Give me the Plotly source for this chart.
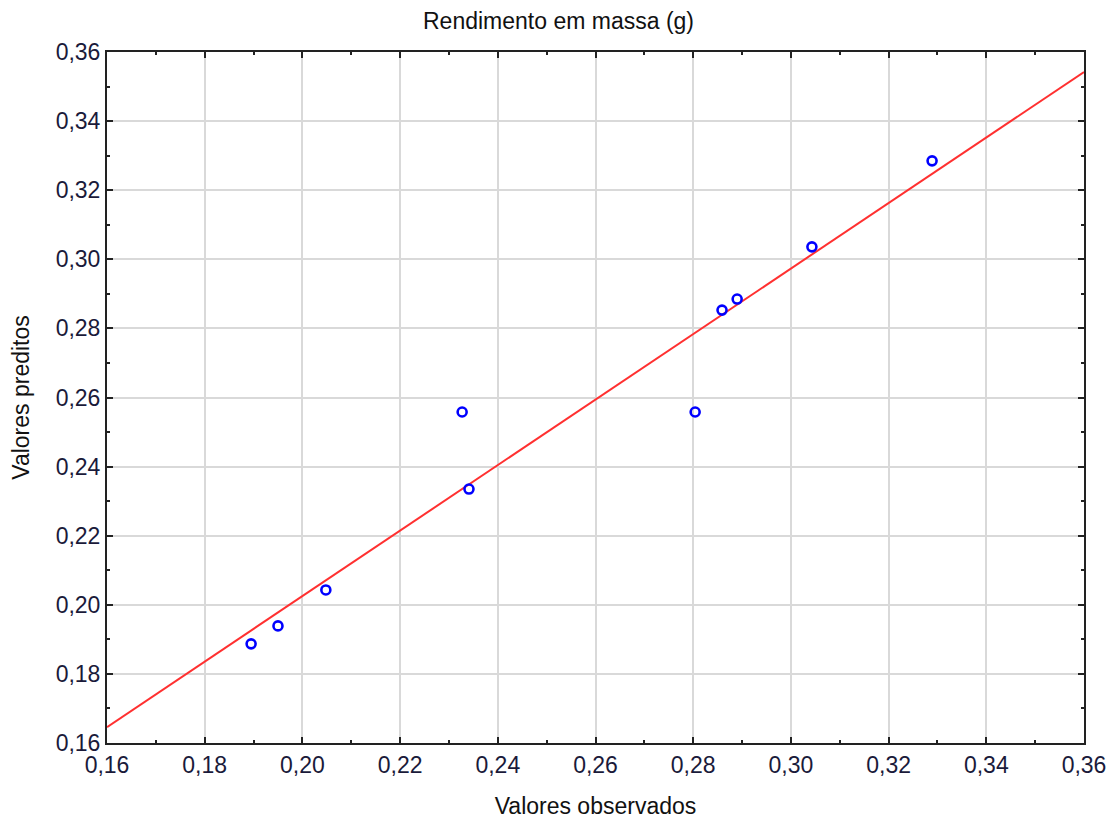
import plotly.graph_objects as go

observed = [0.1895, 0.1950, 0.2048, 0.2327, 0.2341, 0.2804, 0.2859, 0.2890, 0.3043, 0.3289]
predicted = [0.1887, 0.1939, 0.2043, 0.2558, 0.2335, 0.2558, 0.2853, 0.2885, 0.3036, 0.3285]
fit_x = [0.16, 0.36]
fit_y = [0.1646, 0.3542]

title_text = "Rendimento em massa (g)"
x_title = "Valores observados"
y_title = "Valores preditos"
tick_vals = [0.16, 0.18, 0.20, 0.22, 0.24, 0.26, 0.28, 0.30, 0.32, 0.34, 0.36]

font_family = "Liberation Sans, Arial, sans-serif"
fs = 23

fig = go.Figure()
fig.add_trace(go.Scatter(x=fit_x, y=fit_y, mode="lines",
                         line=dict(color="#ff3030", width=2), hoverinfo="skip"))
fig.add_trace(go.Scatter(x=observed, y=predicted, mode="markers",
                         marker=dict(symbol="circle-open", size=9, color="#0000ff",
                                     line=dict(width=2.6, color="#0000ff"))))

axis_common = dict(
    tickmode="array", tickvals=tick_vals, tickformat=".2f",
    range=[0.16, 0.36], showgrid=True, gridcolor="#d9d9d9", gridwidth=1.5,
    showline=True, linecolor="#222222", linewidth=2, mirror="ticks",
    ticks="inside", ticklen=6, tickwidth=1.5, tickcolor="#222222",
    zeroline=False, automargin=False,
    tickfont=dict(family=font_family, size=fs, color="#1a1a3a"),
    minor=dict(ticks="inside", ticklen=3, tickwidth=1.5, tickcolor="#222222",
               dtick=0.01, showgrid=False),
)

fig.update_layout(
    width=1117, height=820,
    margin=dict(l=107, r=33, t=52, b=77),
    plot_bgcolor="white", paper_bgcolor="white",
    showlegend=False,
    separators=", ",
    font=dict(family=font_family, size=fs, color="#111111"),
    title=dict(text=title_text, x=0.5, xanchor="center", y=0.975, yanchor="middle",
               font=dict(family=font_family, size=fs, color="#111111")),
    xaxis=dict(axis_common, title=dict(text=x_title, standoff=21,
                                       font=dict(family=font_family, size=fs, color="#111111"))),
    yaxis=dict(axis_common, title=dict(text=y_title, standoff=20,
                                       font=dict(family=font_family, size=fs, color="#111111"))),
)

fig.write_html("out.html")
